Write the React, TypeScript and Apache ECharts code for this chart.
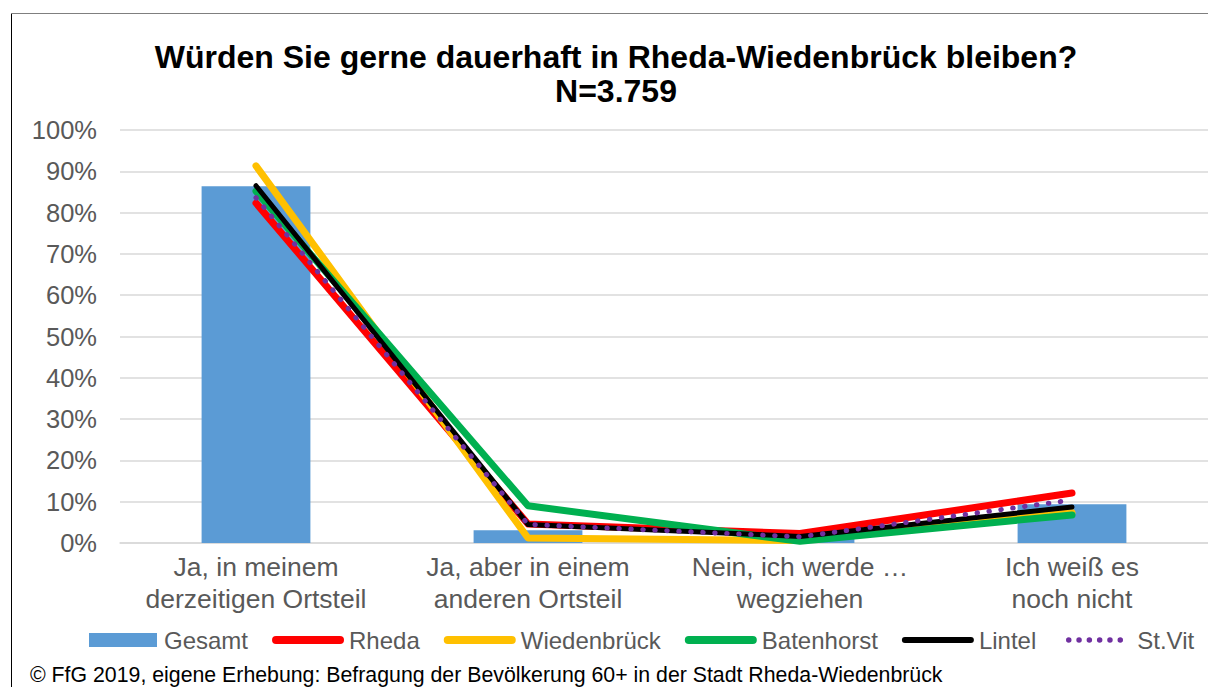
import React, { useEffect, useRef } from "react";
import * as echarts from "echarts";

const categories = [
  "Ja, in meinem\nderzeitigen Ortsteil",
  "Ja, aber in einem\nanderen Ortsteil",
  "Nein, ich werde …\nwegziehen",
  "Ich weiß es\nnoch nicht",
];
const yTicks = [0, 10, 20, 30, 40, 50, 60, 70, 80, 90, 100];
const gesamt = [86.4, 3.1, 1.5, 9.4];
const rheda = [82.3, 4.6, 2.3, 12.1];
const wiedenbrueck = [91.3, 1.2, 0.6, 7.3];
const batenhorst = [85.2, 9.0, 0.4, 6.8];
const lintel = [86.5, 4.5, 1.6, 8.7];
const stVit = [83.6, 4.5, 1.5, 10.4];

const barIcon = "path://M0,7 L0.01,7 Z M2,0 L70,0 L70,14 L2,14 Z M72,7 L71.99,7 Z";
const thickIcon = "path://M4,0 L68,0 A4,4 0 0 1 68,8 L4,8 A4,4 0 0 1 4,0 Z";
const thinIcon = "path://M3,0 L69,0 A3,3 0 0 1 69,6 L3,6 A3,3 0 0 1 3,0 Z";
const dotIcon =
  "path://M0,2.75 L0.01,2.75 Z M72,2.75 L71.99,2.75 Z " +
  [0, 1, 2, 3, 4, 5]
    .map((i) => {
      const cx = 8.5 + i * 10.3;
      return `M${cx - 2.75},2.75 A2.75,2.75 0 1 0 ${cx + 2.75},2.75 A2.75,2.75 0 1 0 ${cx - 2.75},2.75 Z`;
    })
    .join(" ");

const seriesDefs = [
  { name: "Rheda", data: rheda, color: "#ff0000", width: 7, dash: "solid" as any, icon: thickIcon },
  { name: "Wiedenbrück", data: wiedenbrueck, color: "#ffc000", width: 7, dash: "solid" as any, icon: thickIcon },
  { name: "Batenhorst", data: batenhorst, color: "#00b050", width: 7, dash: "solid" as any, icon: thickIcon },
  { name: "Lintel", data: lintel, color: "#000000", width: 5, dash: "solid" as any, icon: thinIcon },
  { name: "St.Vit", data: stVit, color: "#7030a0", width: 5, dash: [0.5, 11.5] as any, icon: dotIcon },
];

export default function App() {
  const ref = useRef<HTMLDivElement>(null);
  useEffect(() => {
    if (!ref.current) return;
    const chart = echarts.init(ref.current, null, { renderer: "svg" });
    const font = "'Liberation Sans', Arial, sans-serif";
    chart.setOption({
      animation: false,
      backgroundColor: "#ffffff",
      textStyle: { fontFamily: font },
      title: {
        text: "Würden Sie gerne dauerhaft in Rheda-Wiedenbrück bleiben?\nN=3.759",
        left: 616,
        top: 40,
        padding: 0,
        textAlign: "center",
        textStyle: {
          fontFamily: font,
          fontSize: 32,
          fontWeight: "bold",
          color: "#000000",
          lineHeight: 34,
        },
      },
      grid: { left: 120, right: 0, top: 130, bottom: 144, containLabel: false },
      xAxis: {
        type: "category",
        data: categories,
        axisLine: { show: true, lineStyle: { color: "#d9d9d9", width: 1.5 } },
        axisTick: { show: false },
        axisLabel: {
          fontFamily: font,
          fontSize: 26.5,
          color: "#595959",
          lineHeight: 32,
          margin: 8,
          interval: 0,
        },
      },
      yAxis: {
        type: "value",
        min: yTicks[0],
        max: yTicks[yTicks.length - 1],
        interval: 10,
        axisLine: { show: false },
        axisTick: { show: false },
        splitLine: { lineStyle: { color: "#d9d9d9", width: 1.5 } },
        axisLabel: {
          fontFamily: font,
          fontSize: 25.5,
          color: "#595959",
          margin: 23,
          formatter: (v: number) => v + "%",
        },
      },
      legend: {
        left: 87,
        top: 628,
        padding: 0,
        itemWidth: 72,
        itemHeight: 14,
        itemGap: 24,
        textStyle: { fontFamily: font, fontSize: 24, color: "#595959" },
        data: [
          { name: "Gesamt", icon: barIcon },
          ...seriesDefs.map((s) => ({ name: s.name, icon: s.icon })),
        ],
      },
      graphic: [
        {
          type: "line",
          shape: { x1: 11.5, y1: 13, x2: 11.5, y2: 687 },
          style: { stroke: "#000000", lineWidth: 1 },
        },
        {
          type: "line",
          shape: { x1: 11, y1: 13.5, x2: 1208, y2: 13.5 },
          style: { stroke: "#7f7f7f", lineWidth: 1 },
        },
        {
          type: "text",
          left: 30,
          top: 664,
          style: {
            text: "© FfG 2019, eigene Erhebung: Befragung der Bevölkerung 60+ in der Stadt Rheda-Wiedenbrück",
            fontFamily: font,
            fontSize: 21.3,
            fill: "#000000",
          },
        },
      ],
      series: [
        {
          name: "Gesamt",
          type: "bar",
          data: gesamt,
          barWidth: "40%",
          itemStyle: { color: "#5b9bd5" },
        },
        ...seriesDefs.map((s) => ({
          name: s.name,
          type: "line",
          data: s.data,
          symbol: "none",
          showSymbol: false,
          color: s.color,
          lineStyle: {
            color: s.color,
            width: s.width,
            type: s.dash,
            cap: "round",
            join: "round",
          },
          itemStyle: { color: s.color },
        })),
      ],
    });
    return () => chart.dispose();
  }, []);
  return (
    <div
      ref={ref}
      style={{ position: "absolute", left: 0, top: 0, width: 1208, height: 687 }}
    />
  );
}
